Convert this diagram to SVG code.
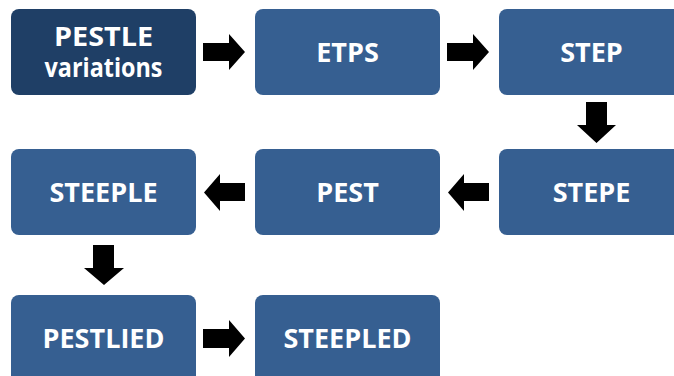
<svg xmlns="http://www.w3.org/2000/svg" width="674" height="376" viewBox="0 0 674 376">
<style>
.box{fill:#365f91;}
.dark{fill:#1f3f66;}
.t{font-family:"Open Sans","Liberation Sans",sans-serif;font-weight:bold;font-size:27px;fill:#ffffff;text-anchor:middle;}
.arr{fill:#000000;}
</style>
<rect width="674" height="376" fill="#ffffff"/>
<g id="n-pestle-variations"><rect class="dark" x="11" y="9" width="185" height="86" rx="8"/><text class="t" x="103.5" y="46" textLength="99" lengthAdjust="spacingAndGlyphs">PESTLE</text><text class="t" x="103.5" y="77" textLength="118" lengthAdjust="spacingAndGlyphs">variations</text></g>
<g id="n-etps"><rect class="box" x="255" y="9" width="185" height="86" rx="8"/><text class="t" x="347.5" y="62">ETPS</text></g>
<g id="n-step"><rect class="box" x="499" y="9" width="185" height="86" rx="8"/><text class="t" x="591.5" y="62">STEP</text></g>
<g id="n-stepe"><rect class="box" x="499" y="149" width="185" height="86" rx="8"/><text class="t" x="591.5" y="202">STEPE</text></g>
<g id="n-pest"><rect class="box" x="255" y="149" width="185" height="86" rx="8"/><text class="t" x="347.5" y="202">PEST</text></g>
<g id="n-steeple"><rect class="box" x="11" y="149" width="185" height="86" rx="8"/><text class="t" x="103.5" y="202">STEEPLE</text></g>
<g id="n-pestlied"><rect class="box" x="11" y="295" width="185" height="90" rx="8"/><text class="t" x="103.5" y="348">PESTLIED</text></g>
<g id="n-steepled"><rect class="box" x="255" y="295" width="185" height="90" rx="8"/><text class="t" x="347.5" y="348">STEEPLED</text></g>
<g id="connectors">
<polygon class="arr" points="203,43 229,43 229,34 245,52 229,70 229,61 203,61"/>
<polygon class="arr" points="447,43 473,43 473,34 489,52 473,70 473,61 447,61"/>
<polygon class="arr" points="586,102 607,102 607,125 616,125 596.5,143 577,125 586,125"/>
<polygon class="arr" points="489,183 464,183 464,174 448,192.5 464,211 464,201 489,201"/>
<polygon class="arr" points="245,183 220,183 220,174 204,192.5 220,211 220,201 245,201"/>
<polygon class="arr" points="93,245 114,245 114,268 124,268 104,285 84,268 93,268"/>
<polygon class="arr" points="203,329 229,329 229,320 245,338.5 229,357 229,348 203,348"/>
</g>
</svg>
